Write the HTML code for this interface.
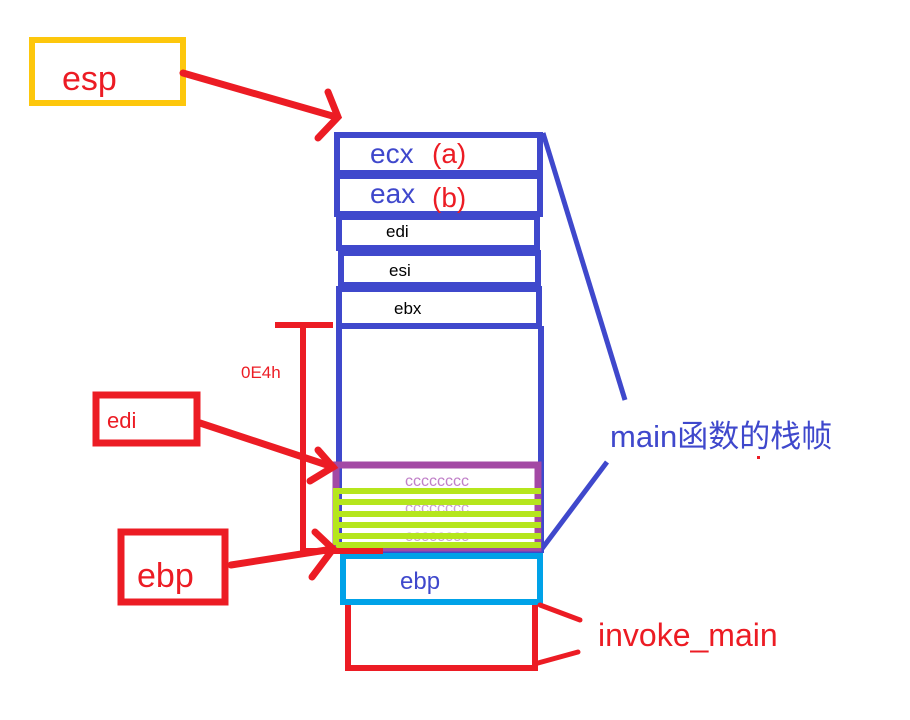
<!DOCTYPE html>
<html><head><meta charset="utf-8"><style>
html,body{margin:0;padding:0;background:#fff;}
svg{display:block;}
text{font-family:"Liberation Sans","Noto Sans CJK SC",sans-serif;}
</style></head><body>
<svg width="910" height="720" viewBox="0 0 910 720" xmlns="http://www.w3.org/2000/svg">
<rect width="910" height="720" fill="#fff"/>
<!-- esp -->
<rect x="32" y="40" width="151" height="63" fill="none" stroke="#fdc70c" stroke-width="6"/>
<text x="62" y="90" font-size="34" fill="#ec1c24">esp</text>
<g stroke="#ec1c24" stroke-width="7" fill="none" stroke-linecap="round">
<line x1="183" y1="73" x2="336" y2="117"/>
<polyline points="328,92 338,117 318,138"/>
</g>
<!-- blue stack -->
<g stroke="#3f48cc" stroke-width="6" fill="none">
<rect x="337" y="135" width="203" height="38"/>
<rect x="337" y="176" width="203" height="38"/>
<rect x="339" y="217" width="198" height="31"/>
<rect x="341" y="253" width="197" height="32"/>
<rect x="339" y="289" width="200" height="37"/>
<line x1="339" y1="326" x2="339" y2="553"/>
<line x1="541" y1="326" x2="541" y2="553"/>
<line x1="337" y1="551" x2="543" y2="551"/>
<line x1="543" y1="133" x2="625" y2="400" stroke-width="5"/>
<line x1="607" y1="462" x2="541" y2="550" stroke-width="5"/>
</g>
<text x="370" y="163" font-size="28" fill="#3f48cc">ecx</text>
<text x="432" y="163" font-size="28" fill="#ec1c24">(a)</text>
<text x="370" y="203" font-size="28" fill="#3f48cc">eax</text>
<text x="432" y="207" font-size="28" fill="#ec1c24">(b)</text>
<text x="386" y="237" font-size="17" fill="#000">edi</text>
<text x="389" y="276" font-size="17" fill="#000">esi</text>
<text x="394" y="314" font-size="17" fill="#000">ebx</text>
<!-- purple / green -->
<rect x="336" y="465" width="202" height="83" fill="none" stroke="#a349a4" stroke-width="7"/>
<text x="405" y="486" font-size="16" fill="#c080c8">cccccccc</text>
<text x="405" y="513" font-size="16" fill="#c8a0d0">cccccccc</text>
<text x="405" y="541" font-size="16" fill="#c8a0d0">cccccccc</text>
<g stroke="#b5e61d" stroke-width="6">
<line x1="333" y1="491" x2="541" y2="491"/>
<line x1="333" y1="502" x2="541" y2="502"/>
<line x1="333" y1="514" x2="541" y2="514"/>
<line x1="333" y1="525" x2="541" y2="525"/>
<line x1="333" y1="536" x2="541" y2="536"/>
<line x1="336" y1="545" x2="541" y2="545"/>
<line x1="336" y1="490" x2="336" y2="545"/>
</g>
<!-- ebp cyan -->
<rect x="343" y="556" width="197" height="46" fill="none" stroke="#00a2e8" stroke-width="6"/>
<text x="400" y="589" font-size="24" fill="#3f48cc">ebp</text>
<!-- invoke_main -->
<polyline points="348,605 348,668 535,668 535,605" fill="none" stroke="#ec1c24" stroke-width="6"/>
<g stroke="#ec1c24" stroke-width="5" stroke-linecap="round">
<line x1="540" y1="605" x2="580" y2="620"/>
<line x1="538" y1="663" x2="578" y2="652"/>
</g>
<text x="598" y="646" font-size="32" fill="#ec1c24">invoke_main</text>
<text x="610" y="447" font-size="31" fill="#3f48cc">main函数的栈帧</text>
<!-- bracket -->
<g stroke="#ec1c24" stroke-width="6" fill="none">
<line x1="275" y1="325" x2="333" y2="325"/>
<line x1="303" y1="325" x2="303" y2="553"/>
<line x1="300" y1="551" x2="383" y2="551"/>
</g>
<text x="241" y="378" font-size="17" fill="#ec1c24">0E4h</text>
<!-- edi box -->
<rect x="96" y="395" width="101" height="48" fill="none" stroke="#ec1c24" stroke-width="7"/>
<text x="107" y="428" font-size="22" fill="#ec1c24">edi</text>
<g stroke="#ec1c24" stroke-width="7" fill="none" stroke-linecap="round">
<line x1="200" y1="423" x2="333" y2="467"/>
<polyline points="318,450 333,467 310,481"/>
</g>
<!-- ebp box -->
<rect x="121" y="532" width="104" height="70" fill="none" stroke="#ec1c24" stroke-width="7"/>
<text x="137" y="587" font-size="34" fill="#ec1c24">ebp</text>
<g stroke="#ec1c24" stroke-width="7" fill="none" stroke-linecap="round">
<line x1="231" y1="565" x2="333" y2="549"/>
<polyline points="315,532 333,549 312,577"/>
</g>
<rect x="757" y="456" width="3" height="3" fill="#ec1c24"/>
</svg>
</body></html>
